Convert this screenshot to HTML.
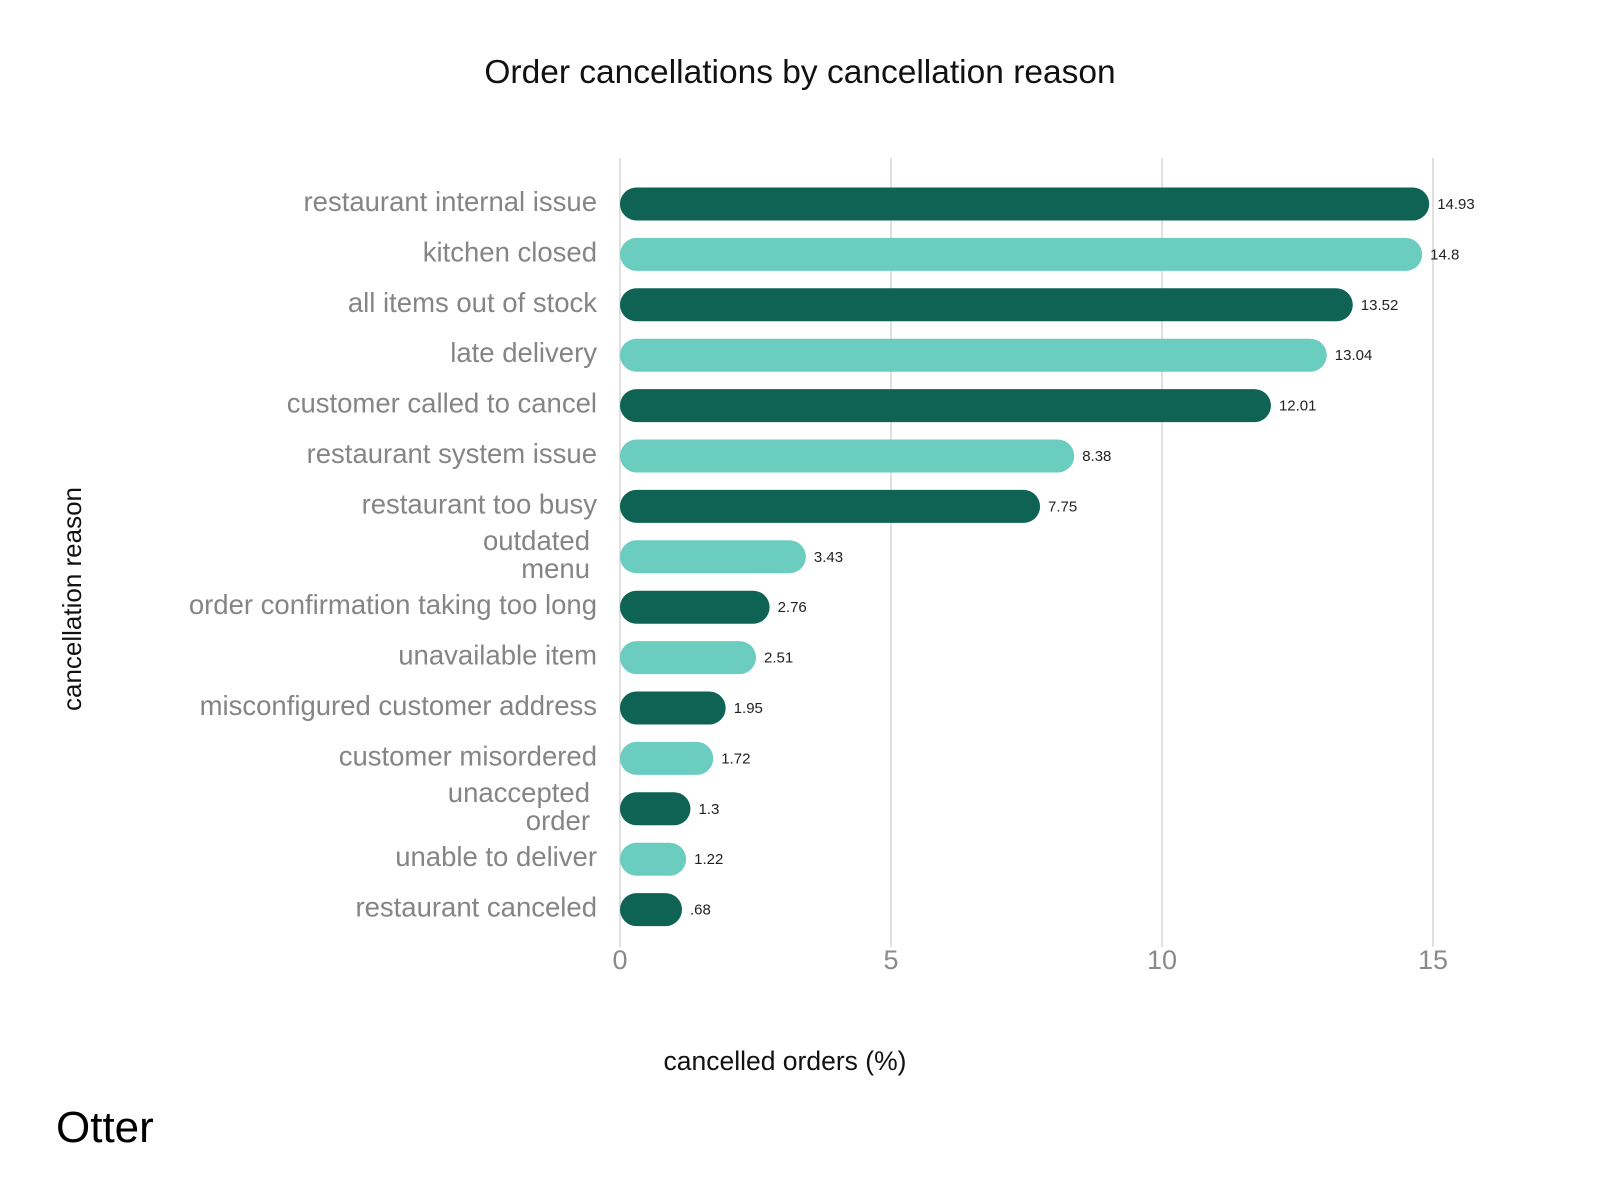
<!DOCTYPE html>
<html><head><meta charset="utf-8"><style>
html,body{margin:0;padding:0;background:#fff}
svg{display:block}
text{font-family:"Liberation Sans",sans-serif}
</style></head><body>
<svg id="chart" width="1600" height="1200" viewBox="0 0 1600 1200">
<text x="800" y="83" text-anchor="middle" font-size="33.5" fill="#111">Order cancellations by cancellation reason</text>
<text transform="translate(81,599) rotate(-90)" text-anchor="middle" font-size="26" fill="#111">cancellation reason</text>
<text x="785" y="1070" text-anchor="middle" font-size="26.5" fill="#111">cancelled orders (%)</text>
<text x="56" y="1142" font-size="44" fill="#000">Otter</text>
<g id="grid"></g><g id="bars"></g>
</svg>
<script>
const categories = [["restaurant internal issue"],["kitchen closed"],["all items out of stock"],["late delivery"],["customer called to cancel"],["restaurant system issue"],["restaurant too busy"],["outdated","menu"],["order confirmation taking too long"],["unavailable item"],["misconfigured customer address"],["customer misordered"],["unaccepted","order"],["unable to deliver"],["restaurant canceled"]];
const values = [14.93,14.8,13.52,13.04,12.01,8.38,7.75,3.43,2.76,2.51,1.95,1.72,1.3,1.22,0.68];
const valueLabels = ["14.93","14.8","13.52","13.04","12.01","8.38","7.75","3.43","2.76","2.51","1.95","1.72","1.3","1.22",".68"];
const ticks = [0,5,10,15];
const NS="http://www.w3.org/2000/svg";
const x0=620, pxPer=(1433-620)/15;
const xs=v=>x0+v*pxPer;
const ys=i=>204+i*50.4;
const grid=document.getElementById('grid'), bars=document.getElementById('bars');
function mk(tag,attrs,parent){const e=document.createElementNS(NS,tag);for(const k in attrs)e.setAttribute(k,attrs[k]);parent.appendChild(e);return e;}
ticks.forEach(t=>{
  const l=mk('line',{x1:xs(t),x2:xs(t),y1:158,y2:947,stroke:'#cfcfcf','stroke-width':1.3},grid);
  
  
  const tx=mk('text',{x:xs(t),y:969,'text-anchor':'middle','font-size':27,fill:'#8a8a8a'},grid);
  tx.textContent=t;
  
  
});
values.forEach((v,i)=>{
  const cy=ys(i), h=33, col=i%2?'#6bcdc0':'#0e6354';
  const w=Math.max(xs(v)-x0,62);
  const r=mk('rect',{x:x0,y:cy-h/2,width:w,height:h,rx:h/2,fill:col},bars);
  
  
  const vl=mk('text',{x:x0+w+8,y:cy+5,'font-size':15,fill:'#222'},bars);
  vl.textContent=valueLabels[i];
  
  
  const lines=categories[i];
  const lab=mk('text',{'text-anchor':'end','font-size':27.5,fill:'#858585'},bars);
  
  
  lines.forEach((s,j)=>{
    const ts=mk('tspan',{x:lines.length>1?590:597,y:cy+7+(j-(lines.length-1)/2)*28},lab);
    ts.textContent=s;
  });
});
</script>
</body></html>
